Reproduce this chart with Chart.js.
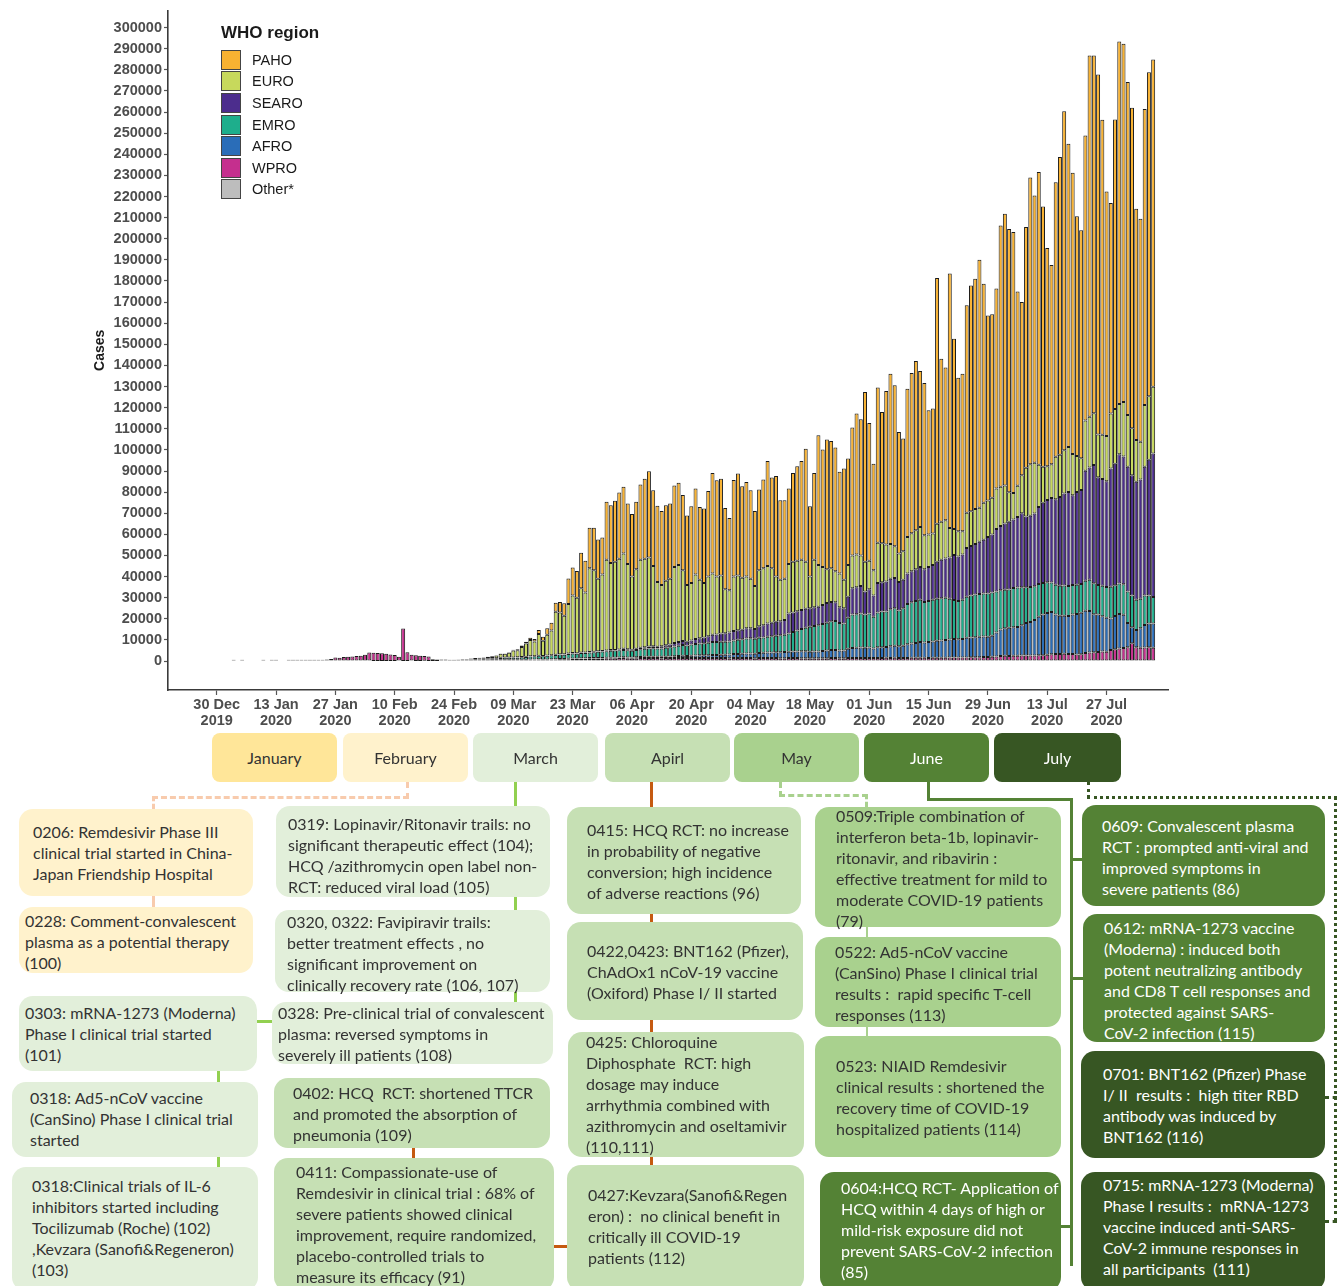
<!DOCTYPE html>
<html>
<head>
<meta charset="utf-8">
<title>Daily cases by WHO region and treatment / vaccine timeline</title>
<script src="https://cdn.jsdelivr.net/npm/chart.js@4.4.1/dist/chart.umd.min.js"></script>
<style>
  html, body { margin: 0; padding: 0; background: #fff; }
  #page { position: relative; width: 1341px; height: 1286px; overflow: hidden; font-family: Lato, "Open Sans", sans-serif; }
  #casesChart { position: absolute; left: 0; top: 0; }
  #legend { position: absolute; left: 221px; top: 23px; font-family: "Liberation Sans", Arial, sans-serif; color: #1a1a1a; }
  .lg-title { font-weight: bold; font-size: 17px; line-height: 20px; height: 26px; }
  .lg-item { display: flex; align-items: center; height: 21.6px; font-size: 14.5px; }
  .lg-box { display: inline-block; width: 20px; height: 20px; box-sizing: border-box; border: 1.3px solid #444; margin-right: 11px; }

  .month { position: absolute; top: 733px; height: 49px; width: 125px; border-radius: 8px; font-size: 16px; color: #333;
           display: flex; align-items: center; justify-content: center; }
  .note { position: absolute; border-radius: 14px; color: #333; }
  .note .tx { position: absolute; font-size: 16px; line-height: 21px; white-space: nowrap; }
  .c-jan { background: #FFE699; }
  .c-feb { background: #FFF2CC; }
  .c-mar { background: #E2EFDA; }
  .c-apr { background: #C6E0B4; }
  .c-may { background: #A9D18E; }
  .c-jun { background: #548235; color: #fff; }
  .c-jul { background: #375623; color: #fff; }
  .ln { position: absolute; box-sizing: border-box; }
</style>
</head>
<body>
<div id="page">
  <canvas id="casesChart" width="1341" height="736"></canvas>
  <div id="legend"></div>

  <!-- month boxes -->
  <div class="month c-jan" style="left:212px">January</div>
  <div class="month c-feb" style="left:343px">February</div>
  <div class="month c-mar" style="left:473px">March</div>
  <div class="month c-apr" style="left:605px">Apirl</div>
  <div class="month c-may" style="left:734px">May</div>
  <div class="month c-jun" style="left:864px">June</div>
  <div class="month c-jul" style="left:994px;width:127px">July</div>

  <!-- connectors -->
  <div class="ln" style="left:406px;top:782px;width:3px;height:17px;border-left:3px dashed #F8CBAD"></div>
  <div class="ln" style="left:152px;top:796px;width:257px;height:3px;border-top:3px dashed #F8CBAD"></div>
  <div class="ln" style="left:152px;top:796px;width:3px;height:13px;border-left:3px dashed #F8CBAD"></div>
  <div class="ln" style="left:152px;top:896px;width:3px;height:11px;background:#F8CBAD"></div>

  <div class="ln" style="left:514px;top:782px;width:3px;height:24px;background:#92D050"></div>
  <div class="ln" style="left:514px;top:897px;width:3px;height:13px;background:#92D050"></div>
  <div class="ln" style="left:514px;top:992px;width:3px;height:10px;background:#92D050"></div>
  <div class="ln" style="left:256px;top:1020px;width:16px;height:3px;background:#92D050"></div>
  <div class="ln" style="left:217px;top:1071px;width:3px;height:11px;background:#92D050"></div>
  <div class="ln" style="left:217px;top:1157px;width:3px;height:10px;background:#92D050"></div>

  <div class="ln" style="left:650px;top:782px;width:3px;height:25px;background:#C55A11"></div>
  <div class="ln" style="left:650px;top:914px;width:3px;height:8px;background:#C55A11"></div>
  <div class="ln" style="left:650px;top:1020px;width:3px;height:12px;background:#C55A11"></div>
  <div class="ln" style="left:650px;top:1157px;width:3px;height:8px;background:#C55A11"></div>
  <div class="ln" style="left:412px;top:1148px;width:3px;height:10px;background:#C55A11"></div>
  <div class="ln" style="left:554px;top:1245px;width:13px;height:3px;background:#C55A11"></div>

  <div class="ln" style="left:779px;top:782px;width:3px;height:15px;border-left:3px dashed #A9D18E"></div>
  <div class="ln" style="left:779px;top:794px;width:89px;height:3px;border-top:3px dashed #A9D18E"></div>
  <div class="ln" style="left:865px;top:794px;width:3px;height:13px;border-left:3px dashed #A9D18E"></div>
  <div class="ln" style="left:866px;top:927px;width:2px;height:10px;background:#A9D18E"></div>
  <div class="ln" style="left:866px;top:1027px;width:2px;height:9px;background:#A9D18E"></div>

  <div class="ln" style="left:927px;top:782px;width:3px;height:19px;background:#548235"></div>
  <div class="ln" style="left:927px;top:798px;width:146px;height:3px;background:#548235"></div>
  <div class="ln" style="left:1070px;top:798px;width:3px;height:468px;background:#548235"></div>
  <div class="ln" style="left:1070px;top:858px;width:12px;height:3px;background:#548235"></div>
  <div class="ln" style="left:1070px;top:977px;width:13px;height:3px;background:#548235"></div>
  <div class="ln" style="left:1061px;top:1225px;width:12px;height:3px;background:#548235"></div>

  <div class="ln" style="left:1087px;top:782px;width:3px;height:16px;border-left:3px dotted #375623"></div>
  <div class="ln" style="left:1087px;top:796px;width:250px;height:3px;border-top:3px dotted #375623"></div>
  <div class="ln" style="left:1334px;top:796px;width:3px;height:426px;border-left:3px dotted #375623"></div>
  <div class="ln" style="left:1325px;top:1096px;width:12px;height:3px;border-top:3px dotted #375623"></div>
  <div class="ln" style="left:1325px;top:1220px;width:12px;height:3px;border-top:3px dotted #375623"></div>

  <!-- annotation boxes -->
  <div class="note c-feb" style="left:19px;top:809px;width:234px;height:87px"><div class="tx" style="left:14px;top:12px">0206: Remdesivir Phase III<br>clinical trial started in China-<br>Japan Friendship Hospital</div></div>
  <div class="note c-feb" style="left:19px;top:907px;width:234px;height:66px"><div class="tx" style="left:6px;top:3px">0228: Comment-convalescent<br>plasma as a potential therapy<br>(100)</div></div>
  <div class="note c-mar" style="left:19px;top:996px;width:238px;height:75px"><div class="tx" style="left:6px;top:6px">0303: mRNA-1273 (Moderna)<br>Phase I clinical trial started<br>(101)</div></div>
  <div class="note c-mar" style="left:12px;top:1082px;width:246px;height:75px"><div class="tx" style="left:18px;top:5px">0318: Ad5-nCoV vaccine<br>(CanSino) Phase I clinical trial<br>started</div></div>
  <div class="note c-mar" style="left:12px;top:1167px;width:246px;height:124px"><div class="tx" style="left:20px;top:8px">0318:Clinical trials of IL-6<br>inhibitors started including<br>Tocilizumab (Roche) (102)<br>,Kevzara (Sanofi&amp;Regeneron)<br>(103)</div></div>

  <div class="note c-mar" style="left:276px;top:806px;width:274px;height:91px"><div class="tx" style="left:12px;top:7px">0319: Lopinavir/Ritonavir trails: no<br>significant therapeutic effect (104);<br>HCQ /azithromycin open label non-<br>RCT: reduced viral load (105)</div></div>
  <div class="note c-mar" style="left:275px;top:910px;width:275px;height:82px"><div class="tx" style="left:12px;top:1px">0320, 0322: Favipiravir trails:<br>better treatment effects , no<br>significant improvement on<br>clinically recovery rate (106, 107)</div></div>
  <div class="note c-mar" style="left:272px;top:1002px;width:281px;height:62px"><div class="tx" style="left:6px;top:0px">0328: Pre-clinical trial of convalescent<br>plasma: reversed symptoms in<br>severely ill patients (108)</div></div>
  <div class="note c-apr" style="left:274px;top:1078px;width:276px;height:70px"><div class="tx" style="left:19px;top:4px">0402: HCQ&nbsp; RCT: shortened TTCR<br>and promoted the absorption of<br>pneumonia (109)</div></div>
  <div class="note c-apr" style="left:274px;top:1158px;width:280px;height:133px"><div class="tx" style="left:22px;top:3px">0411: Compassionate-use of<br>Remdesivir in clinical trial : 68% of<br>severe patients showed clinical<br>improvement, require randomized,<br>placebo-controlled trials to<br>measure its efficacy (91)</div></div>

  <div class="note c-apr" style="left:567px;top:807px;width:234px;height:107px"><div class="tx" style="left:20px;top:12px">0415: HCQ RCT: no increase<br>in probability of negative<br>conversion; high incidence<br>of adverse reactions (96)</div></div>
  <div class="note c-apr" style="left:567px;top:922px;width:236px;height:98px"><div class="tx" style="left:20px;top:18px">0422,0423: BNT162 (Pfizer),<br>ChAdOx1 nCoV-19 vaccine<br>(Oxiford) Phase I/ II started</div></div>
  <div class="note c-apr" style="left:568px;top:1032px;width:236px;height:125px"><div class="tx" style="left:18px;top:-1px">0425: Chloroquine<br>Diphosphate&nbsp; RCT: high<br>dosage may induce<br>arrhythmia combined with<br>azithromycin and oseltamivir<br>(110,111)</div></div>
  <div class="note c-apr" style="left:567px;top:1165px;width:237px;height:126px"><div class="tx" style="left:21px;top:19px">0427:Kevzara(Sanofi&amp;Regen<br>eron) :&nbsp; no clinical benefit in<br>critically ill COVID-19<br>patients (112)</div></div>

  <div class="note c-may" style="left:815px;top:807px;width:246px;height:120px"><div class="tx" style="left:21px;top:-2px">0509:Triple combination of<br>interferon beta-1b, lopinavir-<br>ritonavir, and ribavirin :<br>effective treatment for mild to<br>moderate COVID-19 patients<br>(79)</div></div>
  <div class="note c-may" style="left:815px;top:937px;width:246px;height:90px"><div class="tx" style="left:20px;top:4px">0522: Ad5-nCoV vaccine<br>(CanSino) Phase I clinical trial<br>results :&nbsp; rapid specific T-cell<br>responses (113)</div></div>
  <div class="note c-may" style="left:815px;top:1036px;width:246px;height:121px"><div class="tx" style="left:21px;top:19px">0523: NIAID Remdesivir<br>clinical results : shortened the<br>recovery time of COVID-19<br>hospitalized patients (114)</div></div>
  <div class="note c-jun" style="left:820px;top:1172px;width:241px;height:119px"><div class="tx" style="left:21px;top:5px">0604:HCQ RCT- Application of<br>HCQ within 4 days of high or<br>mild-risk exposure did not<br>prevent SARS-CoV-2 infection<br>(85)</div></div>

  <div class="note c-jun" style="left:1082px;top:805px;width:243px;height:101px"><div class="tx" style="left:20px;top:10px">0609: Convalescent plasma<br>RCT : prompted anti-viral and<br>improved symptoms in<br>severe patients (86)</div></div>
  <div class="note c-jun" style="left:1083px;top:914px;width:242px;height:128px"><div class="tx" style="left:21px;top:3px">0612: mRNA-1273 vaccine<br>(Moderna) : induced both<br>potent neutralizing antibody<br>and CD8 T cell responses and<br>protected against SARS-<br>CoV-2 infection (115)</div></div>
  <div class="note c-jul" style="left:1081px;top:1051px;width:244px;height:107px"><div class="tx" style="left:22px;top:12px">0701: BNT162 (Pfizer) Phase<br>I/ II&nbsp; results :&nbsp; high titer RBD<br>antibody was induced by<br>BNT162 (116)</div></div>
  <div class="note c-jul" style="left:1081px;top:1172px;width:244px;height:119px"><div class="tx" style="left:22px;top:2px">0715: mRNA-1273 (Moderna)<br>Phase I results :&nbsp; mRNA-1273<br>vaccine induced anti-SARS-<br>CoV-2 immune responses in<br>all participants&nbsp; (111)</div></div>
</div>

<script>
// ---- categories / ticks ----
const monthNames = ['Jan', 'Feb', 'Mar', 'Apr', 'May', 'Jun', 'Jul', 'Aug', 'Sep', 'Oct', 'Nov', 'Dec'];
const axisFirstDay = [2019, 11, 19];   // 19 Dec 2019
const axisDayCount = 236;              // .. 10 Aug 2020
const xTickLabels = ['30 Dec 2019', '13 Jan 2020', '27 Jan 2020', '10 Feb 2020', '24 Feb 2020', '09 Mar 2020',
  '23 Mar 2020', '06 Apr 2020', '20 Apr 2020', '04 May 2020', '18 May 2020', '01 Jun 2020', '15 Jun 2020',
  '29 Jun 2020', '13 Jul 2020', '27 Jul 2020'];
const yTickValues = [0, 10000, 20000, 30000, 40000, 50000, 60000, 70000, 80000, 90000, 100000, 110000, 120000,
  130000, 140000, 150000, 160000, 170000, 180000, 190000, 200000, 210000, 220000, 230000, 240000, 250000,
  260000, 270000, 280000, 290000, 300000];

// ---- daily new cases by WHO region ----
const wproStart = '01 Jan 2020';
const wpro = [
  null, null, 40, null, 40, null, null, null, null, 30, null, 40, 40, null, null, 20, 30, 40, 60, 80, 150, 250, 300, 450, 700, 950, 1700, 1600, 1900, 2000, 2200,
  2400, 2500, 3000, 4100, 3950, 3800, 3650, 3450, 3150, 2850, 2050, 15400, 4100, 3000, 2700, 2500, 2350, 2050, 800, 780, 800, 760, 430, 380, 450, 600, 550, 650, 650,
  700, 650, 700, 600, 550, 550, 450, 400, 400, 500, 600, 550, 700, 650, 750, 700, 700, 750, 800, 850, 850, 900, 1000, 1000, 1050, 1100, 1150, 1200, 1200, 1250, 1300,
  1300, 1350, 1400, 1400, 1350, 1300, 1350, 1400, 1450, 1500, 1500, 1400, 1350, 1400, 1400, 1450, 1450, 1500, 1400, 1400, 1450, 1450, 1400, 1450, 1500, 1450, 1450, 1400, 1350, 1400,
  1400, 1400, 1450, 1400, 1350, 1400, 1400, 1450, 1400, 1400, 1350, 1350, 1400, 1400, 1400, 1350, 1350, 1300, 1300, 1300, 1350, 1350, 1400, 1400, 1300, 1300, 1400, 1450, 1450, 1500, 1450,
  1450, 1400, 1500, 1480, 1520, 1500, 1530, 1450, 1460, 1500, 1550, 1550, 1600, 1550, 1500, 1550, 1600, 1600, 1620, 1650, 1700, 1650, 1700, 1750, 1800, 1800, 1850, 1900, 1900, 2000,
  2200, 2400, 2500, 2450, 2550, 2480, 2600, 2600, 2650, 2600, 2700, 2800, 3000, 3200, 3400, 3300, 3500, 3400, 3300, 3100, 3200, 3800, 4000, 4200, 4300, 4500, 4400, 5200, 5600, 6000, 6200,
  6500, 8400, 6500, 6300, 6400, 6600, 6300
];
const afroStart = '04 Mar 2020';
const afro = [
  10, 10, 20, 20, 30, 40, 50, 60, 50, 70, 60, 80, 90, 100, 100, 100, 150, 150, 200, 200, 200, 250, 200, 250, 250, 300, 250, 300,
  300, 350, 350, 400, 400, 400, 450, 500, 550, 500, 600, 600, 650, 700, 800, 850, 950, 1000, 1000, 1100, 1150, 1250, 1300, 1350, 1400, 1450, 1550, 1600, 1750, 1900,
  2000, 2100, 2150, 2200, 2150, 2400, 2500, 2550, 2700, 2800, 2850, 2950, 3000, 3100, 3100, 3250, 3250, 3100, 3200, 3200, 3450, 3650, 3800, 3900, 3700, 3700, 4400, 4750, 4850, 4900, 4850,
  4950, 4600, 5000, 5100, 5200, 5500, 5700, 5550, 5850, 6500, 6750, 7050, 7400, 7250, 7500, 7750, 8000, 8200, 8400, 8550, 8700, 8650, 8800, 9250, 9400, 9500, 9650, 9700, 9600, 10000,
  11300, 12600, 13100, 13300, 13500, 13600, 14400, 15400, 15900, 16800, 18300, 19200, 19800, 20000, 18700, 18200, 18000, 18000, 18700, 19200, 19700, 20000, 19700, 18000, 17700, 16700, 16100, 15000, 15800, 16300, 15700,
  11500, 7600, 8200, 9200, 10700, 11200, 11500
];
const emroStart = '23 Feb 2020';
const emro = [
  20, 40, 60, 100, 150, 250, 350,
  400, 500, 600, 700, 800, 1000, 1100, 1100, 1050, 1100, 1200, 1350, 1450, 1550, 1650, 1500, 1700, 1850, 2000, 2100, 2050, 2300, 2400, 2300, 2500, 2500, 2700, 2750, 2900, 3000, 3100,
  3300, 3300, 3350, 3500, 3350, 3200, 3400, 3700, 3800, 4000, 4000, 3900, 4000, 4200, 4300, 4600, 4800, 5100, 5000, 5300, 5500, 5600, 5700, 5900, 6100, 6100, 6200, 6100, 6200, 6500,
  6700, 6800, 7100, 7200, 7100, 7200, 7300, 7500, 7700, 7800, 8000, 8200, 8700, 9300, 10000, 10600, 11200, 11800, 12100, 12500, 12700, 13200, 13600, 13700, 13000, 12800, 14700, 15800, 15900, 16100, 15700,
  16100, 15000, 16500, 16900, 16800, 17500, 17800, 17000, 17700, 19000, 19500, 19900, 20000, 19200, 19500, 19700, 19900, 20000, 20000, 19300, 18500, 18200, 18500, 19500, 19800, 20200, 20300, 20400, 20500, 20500,
  19500, 18500, 18200, 18200, 18500, 18800, 18000, 17000, 16500, 16000, 15500, 15000, 14500, 14000, 14000, 14200, 14300, 14200, 14000, 13800, 13600, 14200, 14800, 14700, 14000, 14500, 14600, 15000, 14500, 14400, 14500,
  15000, 15000, 14300, 14000, 14000, 13300, 12600
];
const searoStart = '04 Mar 2020';
const searo = [
  10, 10, 20, 20, 30, 40, 50, 60, 50, 50, 60, 50, 70, 100, 100, 100, 100, 150, 200, 200, 200, 200, 200, 200, 200, 200, 300, 300,
  300, 300, 400, 500, 500, 500, 600, 700, 800, 900, 900, 900, 1000, 1200, 1300, 1600, 1800, 1900, 1800, 2000, 2400, 2500, 2800, 3100, 3500, 3600, 3800, 4100, 4200, 4400,
  4500, 4500, 4800, 4800, 4600, 5500, 5800, 6300, 6400, 6600, 6600, 7000, 9400, 9200, 9100, 9000, 9000, 8800, 8900, 8700, 9000, 9300, 9200, 8800, 7500, 7200, 10000, 12500, 12800, 13000, 11000,
  11500, 10000, 14000, 13800, 14200, 14500, 14300, 13500, 13500, 14500, 14700, 15000, 15600, 15500, 16000, 16500, 17500, 18200, 18500, 19500, 21300, 21000, 21500, 23000, 23500, 24000, 24700, 25500, 26800, 27500,
  29500, 30500, 31400, 32000, 32500, 33400, 35000, 33500, 33800, 34500, 36500, 38000, 39000, 40000, 40500, 42000, 43500, 44500, 42500, 44000, 44500, 52100, 53200, 55900, 51000, 50500, 50100, 56000, 57500, 61300, 60500,
  59000, 57000, 55900, 56500, 60900, 64200, 67900
];
const euroStart = '23 Feb 2020';
const euro = [
  20, 50, 120, 250, 250, 360, 420,
  480, 580, 750, 1000, 1250, 1800, 1800, 2200, 3350, 3400, 4800, 6300, 7750, 6900, 10300, 7300, 9900, 11700, 20300, 19800, 18300, 23400, 27200, 26300, 30500, 28500, 39700, 38600, 34400, 36200, 43000,
  41300, 41700, 43000, 45200, 40400, 34600, 37700, 41700, 41900, 42100, 38000, 30700, 29000, 30500, 31200, 36000, 36500, 33500, 26800, 27200, 30500, 27700, 25800, 28200, 29000, 27400, 27500, 20800, 20000, 25800,
  25900, 24700, 24500, 23400, 20300, 26500, 27000, 27200, 25800, 21400, 19700, 19500, 23500, 24000, 23900, 23800, 22200, 15000, 22500, 19800, 18000, 16000, 16000, 14700, 16000, 13500, 15000, 15500, 15500, 14500, 14000,
  13500, 12000, 19000, 18500, 17500, 16500, 15000, 13500, 13500, 17300, 18000, 18500, 18900, 16100, 15500, 14900, 18000, 18000, 18200, 14000, 12300, 12000, 11000, 16700, 16500, 16500, 16100, 17500, 17200, 17400,
  19200, 18500, 18000, 14000, 12500, 14700, 18000, 23000, 24400, 24000, 20000, 17000, 16000, 16000, 20200, 20000, 20500, 21300, 19600, 17000, 15000, 23800, 24000, 24600, 20300, 21000, 21400, 26000, 26000, 23700, 25800,
  24500, 22200, 19800, 17900, 29300, 30100, 31600
];
const pahoStart = '04 Mar 2020';
const paho = [
  70, 80, 120, 120, 200, 300, 400, 600, 800, 1000, 1200, 1900, 1900, 3000, 3600, 4300, 5000, 5900, 12100, 13300, 12700, 16800, 15000, 19100, 20100, 18600, 17500, 27400,
  27300, 28900, 31300, 31500, 28600, 29600, 31900, 35600, 37900, 40900, 35900, 36000, 35100, 35800, 35600, 38600, 38900, 35600, 32900, 36300, 40700, 34500, 35200, 40600, 47600, 45600, 45800, 38500, 34300, 45800,
  48300, 43300, 44800, 41900, 35600, 38200, 42000, 49800, 42900, 47700, 37700, 37200, 35700, 42100, 44800, 46800, 53600, 33300, 41100, 61400, 55700, 61400, 60200, 58600, 48100, 52700, 50400, 60600, 66700, 64500, 80400,
  65300, 50500, 73500, 62200, 72700, 80600, 76300, 57500, 53400, 70200, 75900, 80100, 73900, 72100, 58800, 59200, 116400, 77200, 72300, 120500, 90200, 72700, 74600, 98300, 106900, 109100, 117500, 103700, 87700, 86800,
  94700, 123800, 128600, 124700, 123700, 92000, 82000, 114100, 135700, 126600, 138600, 123300, 103300, 94400, 130000, 141000, 160600, 143600, 133200, 113600, 108000, 135000, 171100, 169400, 170500, 149100, 115800, 99700, 137100, 171700, 169600,
  157700, 151800, 109500, 105600, 140200, 153500, 155000
];
const otherStart = '05 Feb 2020';
const other = [10, 10, 41, 3, 6, 65, null, 39, 44, null, 67, 70, 99, 88, 79, 13];

// ---- build the category list ----
function fmtDay(d) {
    return String(d.getDate()).padStart(2, '0') + ' ' + monthNames[d.getMonth()] + ' ' + d.getFullYear();
}
const days = [];
for (let i = 0; i < axisDayCount; i++) {
    days.push(fmtDay(new Date(axisFirstDay[0], axisFirstDay[1], axisFirstDay[2] + i)));
}

// put a series on the full day axis, starting at its first reported day
function onAxis(values, startLabel) {
    const out = new Array(days.length).fill(null);
    const start = days.indexOf(startLabel);
    values.forEach((v, i) => { out[start + i] = v; });
    return out;
}

// stacking order: first dataset sits at the bottom of each bar
const datasets = [
    { label: 'Other*', data: onAxis(other, otherStart), backgroundColor: '#BDBDBD' },
    { label: 'WPRO', data: onAxis(wpro, wproStart), backgroundColor: '#C52F8E', minBarLength: 1.2 },
    { label: 'AFRO', data: onAxis(afro, afroStart), backgroundColor: '#2A6DB8' },
    { label: 'EMRO', data: onAxis(emro, emroStart), backgroundColor: '#1EAE8C' },
    { label: 'SEARO', data: onAxis(searo, searoStart), backgroundColor: '#4C2D8D' },
    { label: 'EURO', data: onAxis(euro, euroStart), backgroundColor: '#C7D95C' },
    { label: 'PAHO', data: onAxis(paho, pahoStart), backgroundColor: '#F8B232' }
];

const axisFont = { family: '"Liberation Sans", Arial, sans-serif', size: 14.5, weight: 'bold' };

const chart = new Chart(document.getElementById('casesChart'), {
    type: 'bar',
    data: { labels: days, datasets: datasets },
    options: {
        responsive: false,
        animation: false,
        layout: { padding: { left: 0, right: 173, top: 10, bottom: 0 } },
        plugins: { legend: { display: false }, tooltip: { enabled: false } },
        datasets: {
            bar: {
                categoryPercentage: 1,
                barPercentage: 0.94,
                borderWidth: 1,
                borderColor: '#1a1a1a',
                borderSkipped: false
            }
        },
        scales: {
            x: {
                stacked: true,
                offset: true,
                border: { display: true, color: '#3a3a3a', width: 1.6 },
                grid: { display: true, drawOnChartArea: false, offset: false, tickLength: 5, color: '#555', tickWidth: 1.2 },
                ticks: {
                    autoSkip: false,
                    maxRotation: 0,
                    padding: 2,
                    color: '#4d4d4d',
                    font: Object.assign({ lineHeight: 1.1 }, axisFont),
                    callback: function (value) {
                        const s = this.getLabelForValue(value);
                        return [s.slice(0, 6), s.slice(7)];
                    }
                },
                afterBuildTicks: function (axis) {
                    axis.ticks = axis.ticks.filter(t => xTickLabels.includes(days[t.value]));
                },
                afterFit: function (scale) { scale.height = 46; }
            },
            y: {
                stacked: true,
                min: -13700,
                max: 308000,
                border: { display: true, color: '#3a3a3a', width: 1.6 },
                grid: { display: true, drawOnChartArea: false, tickLength: 4, color: '#555', tickWidth: 1.2 },
                ticks: {
                    padding: 2,
                    color: '#4d4d4d',
                    font: axisFont,
                    callback: v => String(v)
                },
                title: {
                    display: true,
                    text: 'Cases',
                    color: '#1a1a1a',
                    font: { family: '"Liberation Sans", Arial, sans-serif', size: 14, weight: 'bold' },
                    padding: { top: 92, bottom: 0 }
                },
                afterBuildTicks: function (axis) {
                    axis.ticks = yTickValues.map(v => ({ value: v }));
                },
                afterFit: function (scale) { scale.width = 168; }
            }
        }
    }
});

// Legend (ggplot style, inside the plot, top-left)
const legendEl = document.getElementById('legend');
let legendHtml = '<div class="lg-title">WHO region</div>';
chart.data.datasets.slice().reverse().forEach(ds => {
    legendHtml += '<div class="lg-item"><span class="lg-box" style="background:' + ds.backgroundColor + '"></span>' + ds.label + '</div>';
});
legendEl.innerHTML = legendHtml;
</script>
</body>
</html>
